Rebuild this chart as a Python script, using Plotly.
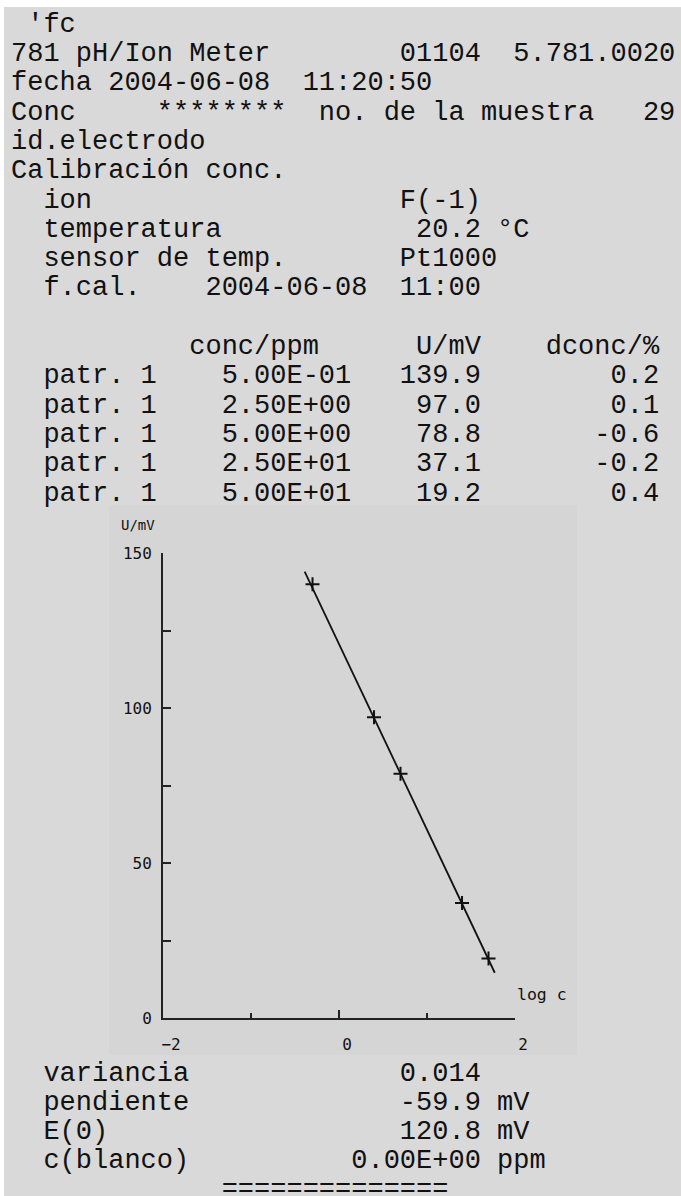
import plotly.graph_objects as go
import numpy as np

# ---------------- data ----------------
header_lines = [
    " 'fc",
    "781 pH/Ion Meter        01104  5.781.0020",
    "fecha 2004-06-08  11:20:50",
    "Conc     ********  no. de la muestra   29",
    "id.electrodo",
    "Calibración conc.",
]
info_labels = ["ion", "temperatura", "sensor de temp."]
info_values = ["F(-1)", "20.2", "Pt1000"]
info_units = ["", "°C", ""]
cal_date = "2004-06-08"
cal_time = "11:00"

std_names = ["patr. 1", "patr. 1", "patr. 1", "patr. 1", "patr. 1"]
conc_ppm = [0.5, 2.5, 5.0, 25.0, 50.0]
u_mv = [139.9, 97.0, 78.8, 37.1, 19.2]
dconc_pct = [0.2, 0.1, -0.6, -0.2, 0.4]

fit_logc = [-0.39, 1.77]
fit_u = [144.0, 14.6]

stat_labels = ["variancia", "pendiente", "E(0)", "c(blanco)"]
stat_values = ["0.014", "-59.9", "120.8", "0.00E+00"]
stat_units = ["", "mV", "mV", "ppm"]

x_major_vals = [-2, 0, 2]
x_major_text = ["−2", "0", "2"]
x_minor_vals = [-1, 1]
y_tickvals = [0, 25, 50, 75, 100, 125, 150]
y_ticktext = ["0", "", "50", "", "100", "", "150"]

# ---------------- layout helpers ----------------
W, H = 681, 1196
PAGE = "#d9d9d9"
PANEL = "#d5d5d5"
INK = "#111111"
AX = "#222222"
MONO = "Liberation Mono, DejaVu Sans Mono, monospace"
SMALL = "DejaVu Sans Mono, monospace"
FS = 27


def px(x):
    return x / W


def py(y):
    return 1 - y / H


def nb(s):
    return s.replace(" ", "\u00a0")


lines = list(header_lines)
for lab, val, unit in zip(info_labels, info_values, info_units):
    s = f"  {lab:<22}{val:>5}"
    if unit:
        s += " " + unit
    lines.append(s)
lines.append(f"  {'f.cal.':<10}{cal_date}  {cal_time}")
lines.append("")
lines.append(" " * 11 + "conc/ppm" + " " * 6 + "U/mV" + " " * 4 + "dconc/%")
for name, c, u, d in zip(std_names, conc_ppm, u_mv, dconc_pct):
    lines.append(f"  {name:<11}{c:.2E}{u:>8.1f}{d:>11.1f}")

bottom_lines = []
for lab, val, unit in zip(stat_labels, stat_values, stat_units):
    s = f"  {lab:<18}{val:>9}"
    if unit:
        s += " " + unit
    bottom_lines.append(s)
bottom_lines.append(" " * 13 + "=" * 14)

annotations = []
X0 = 9
DY = 1.7
for i, s in enumerate(lines):
    if not s:
        continue
    annotations.append(dict(
        x=px(X0), y=py(23 + 29.3 * i + DY), xref="paper", yref="paper",
        xanchor="left", yanchor="middle", showarrow=False,
        text=nb(s), font=dict(family=MONO, size=FS, color=INK)))
for i, s in enumerate(bottom_lines):
    annotations.append(dict(
        x=px(X0), y=py(1072 + 29 * i + DY), xref="paper", yref="paper",
        xanchor="left", yanchor="middle", showarrow=False,
        text=nb(s), font=dict(family=MONO, size=FS, color=INK)))

# axis titles inside the chart panel
annotations.append(dict(x=px(119), y=py(525), xref="paper", yref="paper",
                        xanchor="left", yanchor="middle", showarrow=False,
                        text="U/mV", font=dict(family=SMALL, size=14, color=INK)))
annotations.append(dict(x=px(515), y=py(994), xref="paper", yref="paper",
                        xanchor="left", yanchor="middle", showarrow=False,
                        text=nb("log c"), font=dict(family=SMALL, size=16.5, color=INK)))

shapes = [
    dict(type="rect", xref="paper", yref="paper", x0=px(4), x1=1.02, y0=-0.02, y1=py(7),
         fillcolor=PAGE, line=dict(width=0), layer="below"),
    dict(type="rect", xref="paper", yref="paper", x0=px(109), x1=px(577),
         y0=py(1055), y1=py(505), fillcolor=PANEL, line=dict(width=0), layer="below"),
]

fig = go.Figure()
fig.add_trace(go.Scatter(x=fit_logc, y=fit_u, mode="lines",
                         line=dict(color=INK, width=1.8), hoverinfo="skip"))
fig.add_trace(go.Scatter(x=np.log10(conc_ppm), y=u_mv, mode="markers",
                         marker=dict(symbol="cross-thin", size=10,
                                     line=dict(color=INK, width=2)),
                         hoverinfo="skip"))

fig.update_layout(
    width=W, height=H, autosize=False,
    margin=dict(l=0, r=0, t=0, b=0, autoexpand=False),
    paper_bgcolor="white",
    plot_bgcolor="rgba(0,0,0,0)",
    showlegend=False,
    annotations=annotations,
    shapes=shapes,
    xaxis=dict(domain=[px(163), px(515)], range=[-2, 2], showgrid=False,
               zeroline=False, showline=True, linecolor=AX, linewidth=2,
               ticks="inside", ticklen=8, tickwidth=2, tickcolor=AX,
               tickvals=x_major_vals, ticktext=x_major_text,
               ticklabelstandoff=11, ticklabelshift=8,
               minor=dict(tickvals=x_minor_vals, ticks="inside", ticklen=5,
                          tickwidth=2, tickcolor=AX, showgrid=False),
               tickfont=dict(family=SMALL, size=16, color=INK), fixedrange=True),
    yaxis=dict(domain=[py(1018), py(553)], range=[0, 150], showgrid=False,
               zeroline=False, showline=True, linecolor=AX, linewidth=2,
               ticks="inside", ticklen=8, tickwidth=2, tickcolor=AX,
               tickvals=y_tickvals, ticktext=y_ticktext, ticklabelstandoff=6,
               tickfont=dict(family=SMALL, size=16, color=INK), fixedrange=True),
)

page_js = """
document.body.style.margin='0px';
document.body.style.overflow='hidden';
document.documentElement.style.overflow='hidden';
"""

fig.write_html("out.html", config={"displayModeBar": False, "responsive": False},
               post_script=page_js)
